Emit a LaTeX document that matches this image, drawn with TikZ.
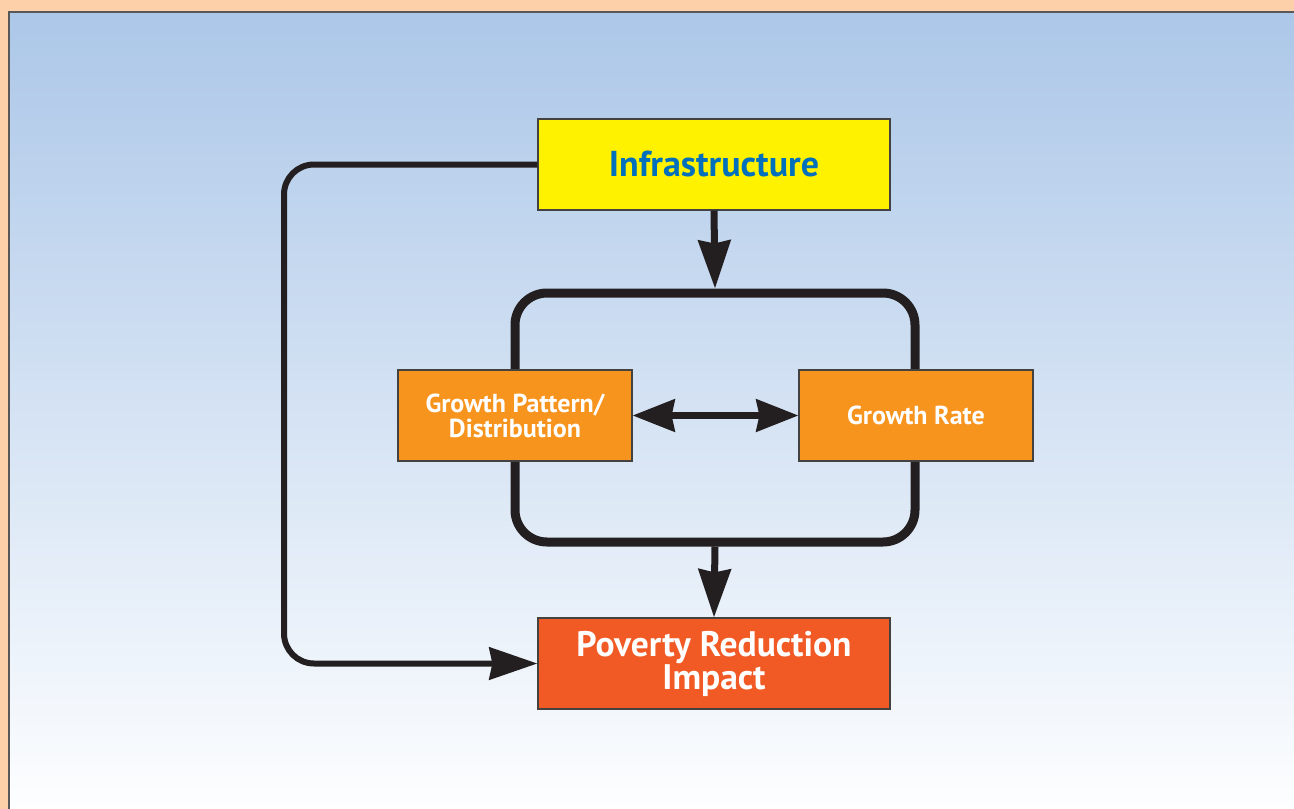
\documentclass[tikz,border=0pt]{standalone}
\usepackage{fontspec}
\setmainfont{PT Sans}
\usetikzlibrary{arrows.meta}

\definecolor{peach}{RGB}{253,208,170}
\definecolor{skytop}{RGB}{172,199,232}
\definecolor{skybot}{RGB}{253,254,255}
\definecolor{infrayellow}{RGB}{255,242,0}
\definecolor{infrablue}{RGB}{0,112,188}
\definecolor{growthorange}{RGB}{247,148,30}
\definecolor{povertyred}{RGB}{241,90,36}
\definecolor{ink}{RGB}{35,31,32}

\tikzset{
  box/.style={draw=ink!85, line width=1.2pt, minimum width=352pt,
    minimum height=91pt, align=center, inner sep=0pt},
  growthbox/.style={box, fill=growthorange, minimum width=234pt,
    text=white, font=\bfseries\fontsize{26}{25}\selectfont},
  flow/.style={draw=ink, line width=7pt,
    -{Stealth[length=48pt,width=32pt,inset=3pt]}},
}

\begin{document}
\begin{tikzpicture}[x=1pt,y=-1pt]
\useasboundingbox (0,0) rectangle (1294,809);
\fill[peach] (0,0) rectangle (1294,809);
\shade[top color=skytop, bottom color=skybot] (9,12) rectangle (1294,809);
\draw[ink!75, line width=2pt] (9,809) -- (9,12) -- (1294,12);

% outer loop of growth
\node[draw=ink, line width=9pt, rounded corners=32pt, minimum width=400pt,
  minimum height=249pt] (loop) at (715,417.5) {};

\node[box, fill=infrayellow, text=infrablue,
  font=\bfseries\fontsize{36}{38}\selectfont] (infra) at (714,164.5) {Infrastructure};
\node[growthbox] (pattern) at (515,415.5) {Growth Pattern/\\Distribution};
\node[growthbox] (rate) at (916,415.5) {Growth Rate};
\node[box, fill=povertyred, text=white,
  font=\bfseries\fontsize{35.5}{33}\selectfont] (poverty) at (714,663.5) {Poverty Reduction\\Impact};

\draw[flow] (infra.south) -- (loop.north);
\draw[flow] (loop.south) -- (poverty.north);
\draw[flow, line width=6.5pt, {Stealth[length=42pt,width=32pt,inset=3pt]}-{Stealth[length=42pt,width=32pt,inset=3pt]}]
  (pattern.east) -- (rate.west);
\draw[flow, line width=6pt, rounded corners=30pt]
  (infra.west) -- (284,164.5) |- (poverty.west);
\end{tikzpicture}
\end{document}
